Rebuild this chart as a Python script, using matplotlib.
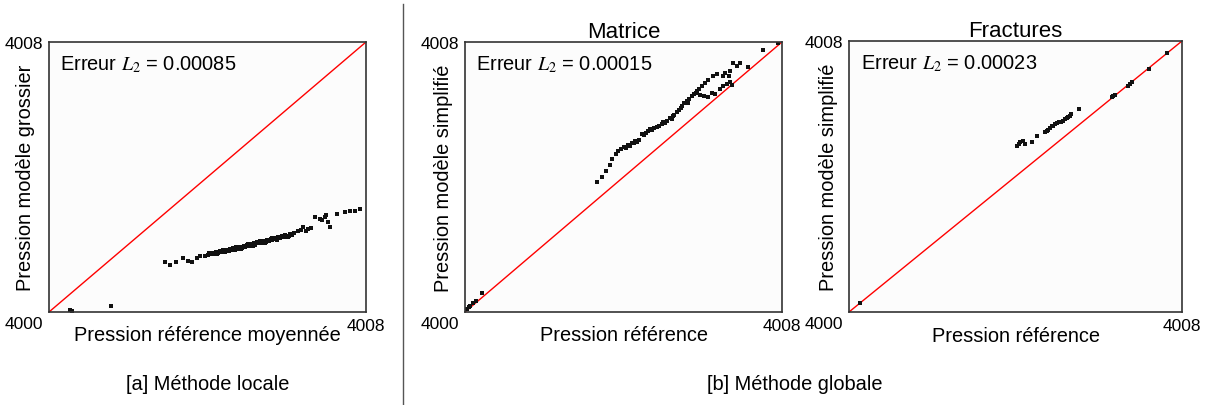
import matplotlib
matplotlib.use('Agg')
import matplotlib.pyplot as plt
from matplotlib.lines import Line2D
import numpy as np

plt.rcParams['font.family'] = ['Liberation Sans', 'DejaVu Sans']
plt.rcParams['mathtext.fontset'] = 'stix'

# pressures are stored as offsets above this base value
p_base = 4000
p_lo, p_hi = 4000, 4008

# [a] methode locale : reference moyennee vs modele grossier
loc_ref = [0.53, 0.58, 1.56,
           2.93, 3.05, 3.20, 3.39, 3.52, 3.60, 3.73, 3.81, 3.94,
           4.00, 4.05, 4.10, 4.14, 4.18, 4.22, 4.27, 4.31, 4.35, 4.40,
           4.44, 4.48, 4.52, 4.57, 4.61, 4.65, 4.69, 4.74, 4.78, 4.82,
           4.86, 4.91, 4.95, 5.00, 5.04, 5.08, 5.12, 5.17, 5.21, 5.25,
           5.30, 5.34, 5.38, 5.43, 5.47, 5.51, 5.56, 5.60, 5.64, 5.69,
           5.73, 5.78, 5.82, 5.87, 5.92, 5.97, 6.02, 6.08, 6.13, 6.19,
           6.28, 6.41, 6.54, 6.60, 6.71, 6.84, 6.97, 7.04, 7.09, 7.27,
           7.47, 7.60, 7.72, 7.85,
           4.25, 4.38, 4.55, 4.72, 4.85, 5.02, 5.15, 5.32, 5.45, 5.62,
           5.75, 5.95, 6.05, 6.35, 6.48, 6.90, 7.00]
loc_mod = [0.06, 0.03, 0.18,
           1.47, 1.39, 1.47, 1.60, 1.52, 1.47, 1.60, 1.65, 1.67,
           1.70, 1.74, 1.71, 1.76, 1.73, 1.78, 1.75, 1.80, 1.77, 1.82,
           1.79, 1.84, 1.81, 1.86, 1.83, 1.89, 1.85, 1.91, 1.88, 1.93,
           1.90, 1.96, 1.93, 1.98, 1.95, 2.01, 1.98, 2.03, 2.00, 2.06,
           2.03, 2.08, 2.05, 2.11, 2.08, 2.13, 2.10, 2.16, 2.13, 2.19,
           2.16, 2.21, 2.18, 2.24, 2.21, 2.26, 2.22, 2.30, 2.27, 2.35,
           2.41, 2.52, 2.46, 2.50, 2.81, 2.76, 2.81, 2.67, 2.52, 2.90,
           2.96, 2.98, 3.00, 3.05,
           1.72, 1.83, 1.80, 1.92, 1.87, 2.02, 1.96, 2.11, 2.05, 2.20,
           2.14, 2.29, 2.25, 2.44, 2.40, 2.72, 2.86]

# [b] methode globale, matrice
mat_ref = [0.04, 0.10, 0.13, 0.20, 0.28, 0.42,
           3.32, 3.45, 3.55, 3.65, 3.70, 3.80, 3.87, 3.93, 4.00, 4.06,
           4.12, 4.17, 4.21, 4.26, 4.30, 4.35, 4.40, 4.46, 4.52, 4.58,
           4.63, 4.67, 4.72, 4.78, 4.84, 4.90, 4.96, 5.00, 5.05, 5.11,
           5.17, 5.22, 5.28, 5.34, 5.40, 5.47, 5.53, 5.60, 5.66, 5.72,
           5.78, 5.85, 5.91, 5.97, 6.06, 6.14, 6.27, 6.35, 6.50, 6.56,
           6.65, 6.69, 6.76, 6.86, 6.94, 7.15, 7.53, 7.91,
           5.93, 6.02, 6.14, 6.23, 6.31, 6.44, 6.52, 6.61, 6.69, 6.73,
           5.25, 5.45, 5.62, 5.82]
mat_mod = [0.09, 0.14, 0.18, 0.27, 0.33, 0.56,
           3.84, 4.00, 4.17, 4.35, 4.53, 4.68, 4.78, 4.82, 4.88, 4.86,
           4.96, 4.93, 5.02, 5.00, 5.07, 5.04, 5.10, 5.26, 5.24, 5.30,
           5.35, 5.42, 5.38, 5.45, 5.47, 5.50, 5.56, 5.62, 5.60, 5.66,
           5.75, 5.72, 5.84, 5.93, 6.00, 6.10, 6.18, 6.24, 6.30, 6.41,
           6.45, 6.55, 6.62, 6.70, 6.78, 6.86, 7.00, 7.05, 7.00, 7.08,
           7.00, 7.15, 7.38, 7.30, 7.38, 7.25, 7.77, 7.97,
           6.42, 6.39, 6.36, 6.49, 6.46, 6.61, 6.71, 6.76, 6.81, 6.73,
           5.80, 6.05, 6.20, 6.48]

# [b] methode globale, fractures
frac_ref = [0.26,
            4.03, 4.08, 4.11, 4.19, 4.23, 4.39, 4.51, 4.71, 4.75, 4.79,
            4.83, 4.87, 4.91, 4.95, 5.00, 5.05, 5.10, 5.15, 5.19, 5.23,
            5.27, 5.31, 5.33, 5.53,
            6.32, 6.35, 6.38, 6.71, 6.75, 6.79, 7.21, 7.63]
frac_mod = [0.27,
            4.89, 4.95, 5.01, 5.06, 4.96, 5.01, 5.19, 5.30, 5.34, 5.38,
            5.42, 5.48, 5.50, 5.55, 5.57, 5.60, 5.62, 5.65, 5.69, 5.72,
            5.75, 5.79, 5.85, 5.99,
            6.36, 6.39, 6.42, 6.66, 6.73, 6.78, 7.17, 7.65]

errors = ['0.00085', '0.00015', '0.00023']
titles = [None, 'Matrice', 'Fractures']
xlabels = ['Pression référence moyennée', 'Pression référence', 'Pression référence']
ylabels = ['Pression modèle grossier', 'Pression modèle simplifié', 'Pression modèle simplifié']
captions = ['[a] Méthode locale', '[b] Méthode globale']


def draw_panel(ax, ref, mod, err, xlabel, ylabel, title, ylab_x):
    ax.set_facecolor('#fcfcfc')
    ax.plot([p_lo, p_hi], [p_lo, p_hi], color='red', lw=1)
    ax.plot(np.array(ref) + p_base, np.array(mod) + p_base, 's',
            color='#111111', ms=3.5, mew=0)
    ax.set_xlim(p_lo, p_hi)
    ax.set_ylim(p_lo, p_hi)
    ax.set_xticks([p_hi])
    ax.set_yticks([p_hi])
    ax.tick_params(length=0, labelsize=12.5, pad=4)
    ax.annotate(str(p_lo), xy=(0, 0), xycoords='axes fraction',
                xytext=(-4, -3), textcoords='offset points',
                ha='right', va='top', fontsize=12.5)
    for s in ax.spines.values():
        s.set_color('#333333')
        s.set_linewidth(1.2)
    ax.set_xlabel(xlabel, fontsize=14.4)
    ax.xaxis.set_label_coords(0.5, -0.05)
    ax.set_ylabel(ylabel, fontsize=14.4)
    ax.yaxis.set_label_coords(ylab_x, 0.5)
    if title:
        ax.set_title(title, fontsize=16, pad=3)
    ax.text(0.035, 0.92, r'Erreur $\mathit{L}_{\mathit{2}}$ = ' + err,
            transform=ax.transAxes, fontsize=14.4, va='center', ha='left')


W, H = 1205, 406
fig = plt.figure(figsize=(W / 100, H / 100), dpi=100)

boxes = [(49, 43, 366, 313), (465, 43, 782, 313), (849, 42, 1182, 313)]
ylab_xs = [-0.044, -0.038, -0.033]
data = [(loc_ref, loc_mod), (mat_ref, mat_mod), (frac_ref, frac_mod)]

for i, (l, t, r, b) in enumerate(boxes):
    ax = fig.add_axes([l / W, 1 - b / H, (r - l) / W, (b - t) / H])
    draw_panel(ax, data[i][0], data[i][1], errors[i], xlabels[i],
               ylabels[i], titles[i], ylab_xs[i])

fig.add_artist(Line2D([403 / W, 403 / W], [0, 1 - 5 / H],
                      transform=fig.transFigure, color='#555555', lw=1))

fig.text(208 / W, 1 - 385 / H, captions[0], ha='center', va='center', fontsize=14.4)
fig.text(795 / W, 1 - 385 / H, captions[1], ha='center', va='center', fontsize=14.4)

fig.savefig('out.png', dpi=100)
